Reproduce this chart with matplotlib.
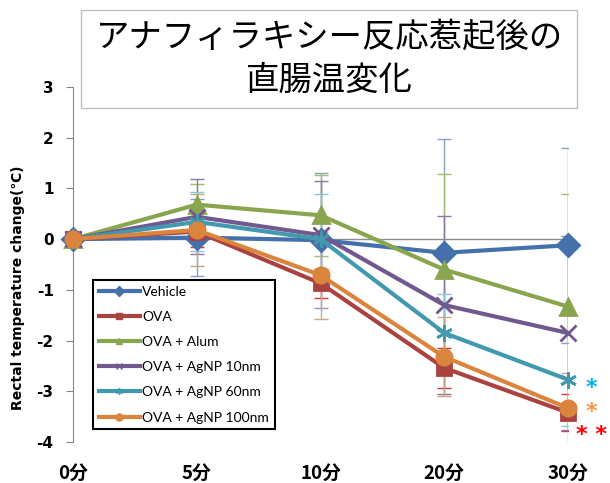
# Rectal temperature change after anaphylaxis induction

import numpy as np
import matplotlib
matplotlib.use('Agg')
import matplotlib.pyplot as plt
from matplotlib.lines import Line2D
from matplotlib.patches import Rectangle

plt.rcParams['font.family'] = ['DejaVu Sans', 'Noto Sans CJK JP']

# data
times = ['0分', '5分', '10分', '20分', '30分']
groups = ['Vehicle', 'OVA', 'OVA + Alum', 'OVA + AgNP 10nm', 'OVA + AgNP 60nm', 'OVA + AgNP 100nm']
yticks = [-4, -3, -2, -1, 0, 1, 2, 3]

vehicle = [0, 0.03, -0.02, -0.27, -0.12]
ova = [0, 0.15, -0.87, -2.54, -3.42]
alum = [0, 0.68, 0.47, -0.60, -1.33]
agnp10 = [0, 0.44, 0.08, -1.30, -1.85]
agnp60 = [0, 0.34, 0.00, -1.85, -2.77]
agnp100 = [0, 0.18, -0.71, -2.32, -3.33]

vehicle_err = [0, 0.76, 1.33, 2.25, 1.92]
ova_err = [0, 0.30, 0.29, 0.40, 0.37]
alum_err = [0, 0.41, 0.80, 1.88, 2.23]
agnp10_err = [0, 0.74, 1.07, 1.75, 1.91]
agnp60_err = [0, 0.58, 0.89, 0.76, 0.92]
agnp100_err = [0, 0.71, 0.86, 0.78, 0.70]

means = [vehicle, ova, alum, agnp10, agnp60, agnp100]
errs = [vehicle_err, ova_err, alum_err, agnp10_err, agnp60_err, agnp100_err]

colors = ['#4470AB', '#AA4340', '#89A54E', '#71588F', '#4198AF', '#DB843D']
err_colors = ['#8AA0C0', '#CC3A36', '#A3BF72', '#8C78A8', '#86C8D8', '#C9A589']
markers = ['D', 's', '^', 'x', (6, 2, 0), 'o']
msizes = [11, 10, 12, 11, 12, 11]

fig = plt.figure(figsize=(6.1, 4.83), dpi=100)
ax = fig.add_axes([73/610, 1-442/483, 495/610, 355/483])

x = np.arange(len(times))

# error bars behind the lines
for m, e, ec in zip(means, errs, err_colors):
    ax.errorbar(x[1:], m[1:], yerr=e[1:], fmt='none', ecolor=ec, elinewidth=1,
                capsize=5, capthick=1, zorder=2)

for m, c, mk, ms in zip(means, colors, markers, msizes):
    ax.plot(x, m, color=c, lw=3, marker=mk, markersize=ms, mew=2, zorder=3, clip_on=False)

ax.axhline(0, color='#8C8C8C', lw=1, zorder=1)

ax.set_xlim(0, 4)
ax.set_ylim(-4, 3)
ax.set_xticks(x)
ax.set_xticklabels(times, fontsize=13.5, fontweight='bold', family=['Noto Sans CJK JP', 'DejaVu Sans'])
ax.set_yticks(yticks)
ax.set_yticklabels([str(v) for v in yticks], fontsize=11, fontweight='bold')
ax.tick_params(axis='x', length=0, pad=16)
ax.tick_params(axis='y', direction='out', length=5, color='#868686', pad=9)

for s in ['top', 'right', 'bottom']:
    ax.spines[s].set_visible(False)
ax.spines['left'].set_color('#868686')

fig.text(18/610, 1-288/483, 'Rectal temperature change(℃)', rotation=90,
         ha='center', va='center', fontsize=10, fontweight='bold')

# legend
handles = [Line2D([], [], color=c, lw=3, marker=mk, markersize=5, mew=1)
           for c, mk in zip(colors, markers)]
leg = fig.legend(handles, groups, loc='upper left', bbox_to_anchor=(93/610, 1-280/483),
                 bbox_transform=fig.transFigure, borderaxespad=0,
                 prop={'family': 'Lato', 'size': 10},
                 handlelength=3.0, handletextpad=0.15, labelspacing=0.95, borderpad=0.4,
                 fancybox=False, framealpha=1, edgecolor='black')
leg.get_frame().set_linewidth(1.5)

# significance marks
ax.text(4.19, -2.94, '*', color='#00B0F0', fontsize=16, fontweight='bold', ha='center', va='center', clip_on=False)
ax.text(4.19, -3.40, '*', color='#F79646', fontsize=16, fontweight='bold', ha='center', va='center', clip_on=False)
ax.text(4.19, -3.86, '* *', color='#FF0000', fontsize=16, fontweight='bold', ha='center', va='center', clip_on=False)

# title box
fig.add_artist(Rectangle((81/610, 1-108/483), 496/610, 98/483, transform=fig.transFigure,
                         facecolor='white', edgecolor='#BFBFBF', lw=1, zorder=5))
fig.text(329/610, 1-37/483, 'アナフィラキシー反応惹起後の', ha='center', va='center',
         fontsize=24, family=['Noto Sans CJK JP'], zorder=6)
fig.text(329/610, 1-80/483, '直腸温変化', ha='center', va='center',
         fontsize=24, family=['Noto Sans CJK JP'], zorder=6)

plt.savefig('out.png', dpi=100)
